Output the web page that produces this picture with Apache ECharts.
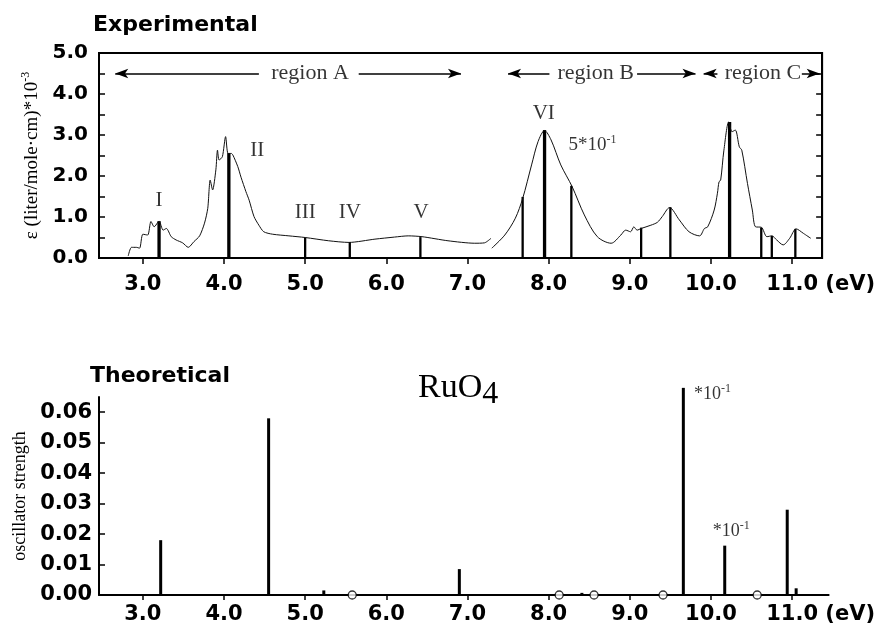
<!DOCTYPE html>
<html>
<head>
<meta charset="utf-8">
<script src="https://cdn.jsdelivr.net/npm/echarts@6/dist/echarts.min.js"></script>
<style>
html,body{margin:0;padding:0;background:#fff;}
#chart{width:878px;height:633px;}
</style>
</head>
<body>
<div id="chart"></div>
<script>
// ---------- DATA ----------
// Experimental absorption curve, region A (eV, epsilon*10^-3)
const curveA_x = [2.82,2.86,2.92,2.96,3.00,3.06,3.10,3.14,3.20,3.25,3.29,3.35,3.41,3.49,3.56,3.63,3.70,3.76,3.80,3.83,3.86,3.90,3.92,3.94,3.98,4.02,4.05,4.09,4.11,4.17,4.21,4.27,4.31,4.37,4.43,4.49,4.60,4.80,5.00,5.29,5.54,5.86,6.10,6.27,6.44,6.76,7.09,7.21,7.29];
const curveA_y = [0.05,0.26,0.26,0.24,0.58,0.56,0.89,0.76,0.90,0.68,0.72,0.52,0.44,0.37,0.26,0.40,0.54,0.85,1.21,1.90,1.66,2.15,2.63,2.39,2.47,2.96,2.55,2.55,2.51,2.23,1.97,1.62,1.41,1.01,0.80,0.64,0.58,0.54,0.50,0.42,0.38,0.46,0.51,0.54,0.52,0.42,0.36,0.37,0.48];
// Experimental absorption curve, regions B and C
const curveB_x = [7.30,7.46,7.59,7.68,7.79,7.87,7.95,8.03,8.15,8.29,8.44,8.60,8.77,8.89,8.95,9.01,9.05,9.09,9.14,9.26,9.34,9.40,9.49,9.61,9.73,9.86,9.92,9.96,10.04,10.08,10.10,10.12,10.16,10.22,10.26,10.30,10.35,10.38,10.45,10.51,10.55,10.62,10.69,10.75,10.81,10.89,10.97,11.05,11.14,11.23];
const curveB_y = [0.24,0.56,0.97,1.45,2.27,2.84,3.11,2.88,2.27,1.74,1.05,0.52,0.36,0.56,0.68,0.64,0.76,0.68,0.72,0.80,0.87,1.01,1.23,0.93,0.64,0.54,0.72,0.76,1.17,1.58,1.86,1.90,2.63,3.32,3.08,3.12,2.71,2.63,1.82,1.17,0.76,0.75,0.52,0.54,0.44,0.32,0.48,0.71,0.60,0.48];
// Experimental assigned bands (sticks)
const expMajor_x = [3.20,4.06,7.95,10.23];
const expMajor_y = [0.90,2.56,3.12,3.32];
const expMinor_x = [5.00,5.55,6.42,7.68,8.28,9.14,9.50,10.62,10.75,11.04];
const expMinor_y = [0.50,0.39,0.51,1.49,1.76,0.74,1.24,0.74,0.54,0.71];
// Theoretical oscillator strengths
const theo_x = [3.22,4.55,5.23,6.90,8.41,9.66,10.17,10.94,11.05];
const theo_y = [0.018,0.058,0.0015,0.0085,0.0007,0.068,0.0162,0.028,0.0022];
// Zero-intensity (forbidden) transitions
const theoZero_x = [5.58,8.13,8.56,9.41,10.57];
// Tick labels
const xTicks = [3,4,5,6,7,8,9,10,11];
const yTicksTop = [0,1,2,3,4,5];
const yTicksBottom = [0,0.01,0.02,0.03,0.04,0.05,0.06];
// Annotations (text, x, y)
const bandLabels = [['I',3.20,1.41],['II',4.41,2.63],['III',5.00,1.11],['IV',5.55,1.11],['V',6.43,1.11],['VI',7.94,3.52]];
const regionLabels = [['region A',5.06,4.5],['region B',8.58,4.5],['region C',10.64,4.5]];
// region arrows: [tipX, tailX] (arrow points to tipX)
const regionArrows = [[2.66,4.43],[6.92,5.66],[7.50,8.01],[9.81,9.09],[9.91,10.08],[11.34,11.12]];
const regionArrowY = 4.5;

// ---------- CHART ----------
const chart = echarts.init(document.getElementById('chart'), null, {renderer:'canvas'});
const NUM_FONT = 'DejaVu Sans';
const SERIF = 'Liberation Serif';

function zip(xs, ys){ return xs.map((x,i)=>[x, ys[i]]); }
function stickRenderer(width){
  return function(params, api){
    const x = api.value(0), y = api.value(1);
    const p0 = api.coord([x, 0]);
    const p1 = api.coord([x, y]);
    return {type:'line', shape:{x1:p0[0],y1:p0[1],x2:p1[0],y2:p1[1]},
      style:{stroke:'#000', lineWidth:width}};
  };
}
const xLabelFmt = function(v){
  if (Math.abs(v-11) < 1e-6) return '{pad|}11.0 (eV)';
  return v.toFixed(1);
};
const xLabelRich = {pad:{width:57}};

const option = {
  animation:false,
  backgroundColor:'#fff',
  title:[
    {text:'Experimental', left:88, top:9, textStyle:{fontFamily:NUM_FONT, fontWeight:'bold', fontSize:22, color:'#000'}},
    {text:'Theoretical', left:85, top:360, textStyle:{fontFamily:NUM_FONT, fontWeight:'bold', fontSize:22, color:'#000'}},
    {text:'{a|RuO}{b|4}', left:413, top:366, textStyle:{fontWeight:'normal', rich:{
      a:{fontFamily:SERIF, fontWeight:'normal', fontSize:34, color:'#000', lineHeight:40, verticalAlign:'top'},
      b:{fontFamily:SERIF, fontWeight:'normal', fontSize:32, color:'#000', lineHeight:40, verticalAlign:'bottom', padding:[12,0,0,0]}
    }}}
  ],
  grid:[
    {left:99, right:53, top:53, height:205, show:true, borderColor:'#000', borderWidth:2},
    {left:99, right:45, top:397, height:198}
  ],
  xAxis:[
    {gridIndex:0, type:'value', min:2.46, max:11.37,
      axisLine:{show:true, onZero:false, lineStyle:{color:'#000', width:2}},
      axisTick:{show:true, inside:false, length:6, customValues:xTicks, lineStyle:{color:'#000', width:1.5}},
      axisLabel:{show:true, customValues:xTicks, margin:16, formatter:xLabelFmt, rich:xLabelRich,
        fontFamily:NUM_FONT, fontWeight:'bold', fontSize:21, color:'#000'},
      splitLine:{show:false}},
    {gridIndex:1, type:'value', min:2.46, max:11.45,
      axisLine:{show:true, onZero:false, lineStyle:{color:'#000', width:2}},
      axisTick:{show:true, inside:false, length:5, customValues:xTicks, lineStyle:{color:'#000', width:1.5}},
      axisLabel:{show:true, customValues:xTicks, margin:9, formatter:xLabelFmt, rich:xLabelRich,
        fontFamily:NUM_FONT, fontWeight:'bold', fontSize:21, color:'#000'},
      splitLine:{show:false}}
  ],
  yAxis:[
    {gridIndex:0, type:'value', min:0, max:5, interval:0.5, position:'left',
      name:'{a|ε (liter/mole·cm)*10}{s|-3}', nameLocation:'middle', nameGap:50,
      nameTextStyle:{rich:{a:{fontFamily:SERIF, fontSize:19, color:'#000', lineHeight:24},
                           s:{fontFamily:SERIF, fontSize:12, color:'#000', verticalAlign:'top', lineHeight:24}}},
      axisLine:{show:true, lineStyle:{color:'#000', width:2}},
      axisTick:{show:true, inside:true, length:6, lineStyle:{color:'#000', width:1.5}},
      axisLabel:{show:true, margin:11, customValues:yTicksTop, formatter:v=>v.toFixed(1),
        fontFamily:NUM_FONT, fontWeight:'bold', fontSize:20, color:'#000'},
      splitLine:{show:false}},
    {gridIndex:0, type:'value', min:0, max:5, interval:0.5, position:'right',
      axisLine:{show:true, lineStyle:{color:'#000', width:2}},
      axisTick:{show:true, inside:true, length:6, lineStyle:{color:'#000', width:1.5}},
      axisLabel:{show:false}, splitLine:{show:false}},
    {gridIndex:1, type:'value', min:0, max:0.065,
      name:'oscillator strength', nameLocation:'middle', nameGap:70,
      nameTextStyle:{fontFamily:SERIF, fontSize:18, color:'#000'},
      axisLine:{show:true, lineStyle:{color:'#000', width:2}},
      axisTick:{show:true, inside:true, length:6, customValues:yTicksBottom, lineStyle:{color:'#000', width:1.5}},
      axisLabel:{show:true, margin:7, customValues:yTicksBottom, formatter:v=>v.toFixed(2),
        fontFamily:NUM_FONT, fontWeight:'bold', fontSize:21, color:'#000'},
      splitLine:{show:false}}
  ],
  series:[
    {type:'line', xAxisIndex:0, yAxisIndex:0, data:zip(curveA_x, curveA_y), smooth:0.25,
      showSymbol:false, lineStyle:{color:'#111', width:1}, silent:true,
      markLine:{silent:true, symbol:['arrow','none'], symbolSize:[7,13],
        lineStyle:{color:'#000', width:1.5, type:'solid'}, label:{show:false},
        data: regionArrows.map(a=>[{coord:[a[0], regionArrowY]},{coord:[a[1], regionArrowY]}])}},
    {type:'line', xAxisIndex:0, yAxisIndex:0, data:zip(curveB_x, curveB_y), smooth:0.3,
      showSymbol:false, lineStyle:{color:'#111', width:1}, silent:true},
    {type:'custom', xAxisIndex:0, yAxisIndex:0, renderItem:stickRenderer(3.3),
      data:zip(expMajor_x, expMajor_y), encode:{x:0,y:1}, silent:true},
    {type:'custom', xAxisIndex:0, yAxisIndex:0, renderItem:stickRenderer(2.3),
      data:zip(expMinor_x, expMinor_y), encode:{x:0,y:1}, silent:true},
    {type:'scatter', xAxisIndex:0, yAxisIndex:0, symbolSize:0, silent:true,
      data:bandLabels.map(l=>({name:l[0], value:[l[1], l[2]]})),
      label:{show:true, position:'inside', formatter:'{b}', fontFamily:SERIF, fontSize:21, color:'#000'}},
    {type:'scatter', xAxisIndex:0, yAxisIndex:0, symbolSize:0, silent:true,
      data:regionLabels.map(l=>({name:l[0], value:[l[1], l[2]]})),
      label:{show:true, position:'inside', formatter:'{b}', fontFamily:SERIF, fontSize:22, color:'#000'}},
    {type:'scatter', xAxisIndex:0, yAxisIndex:0, symbolSize:0, silent:true,
      data:[{name:'scale', value:[8.54, 2.76]}],
      label:{show:true, position:'inside', formatter:'{a|5*10}{s|-1}',
        rich:{a:{fontFamily:SERIF, fontSize:19, color:'#000', lineHeight:22},
              s:{fontFamily:SERIF, fontSize:12, color:'#000', verticalAlign:'top', lineHeight:22}}}},
    {type:'custom', xAxisIndex:1, yAxisIndex:2, renderItem:stickRenderer(3),
      data:zip(theo_x, theo_y), encode:{x:0,y:1}, silent:true, clip:false},
    {type:'scatter', xAxisIndex:1, yAxisIndex:2, symbol:'circle', symbolSize:8, silent:true, z:5,
      itemStyle:{color:'#fff', borderColor:'#000', borderWidth:1.3},
      data:theoZero_x.map(x=>[x,0])},
    {type:'scatter', xAxisIndex:1, yAxisIndex:2, symbolSize:0, silent:true, clip:false,
      data:[{name:'s1', value:[10.02, 0.0659]},{name:'s2', value:[10.25, 0.021]}],
      label:{show:true, position:'inside', formatter:'{a|*10}{s|-1}',
        rich:{a:{fontFamily:SERIF, fontSize:18, color:'#000', lineHeight:22},
              s:{fontFamily:SERIF, fontSize:12, color:'#000', verticalAlign:'top', lineHeight:22}}}}
  ]
};
chart.setOption(option);
</script>
</body>
</html>
